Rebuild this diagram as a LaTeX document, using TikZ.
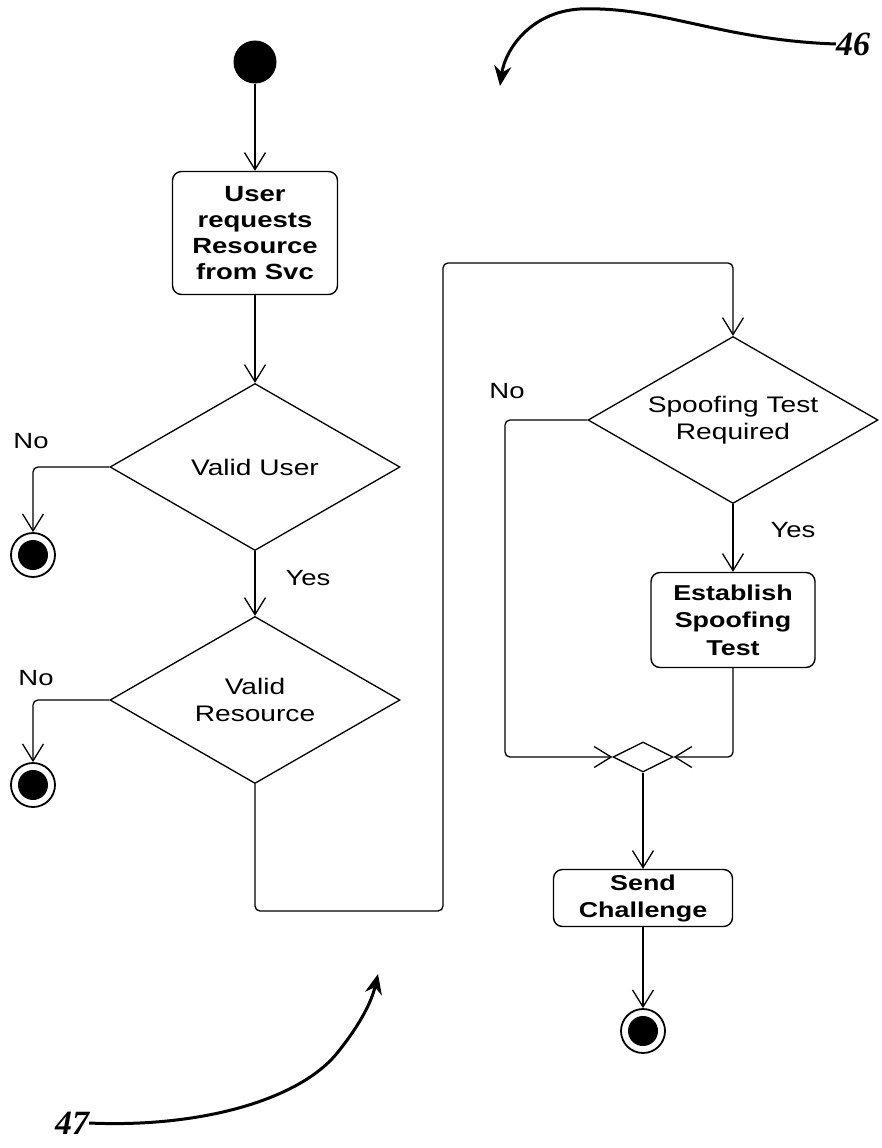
\documentclass[tikz,border=0pt]{standalone}
\usepackage{fontspec}
\setmainfont[FakeStretch=1.25]{Liberation Sans}
\newfontfamily\handfont{Liberation Serif}
\usetikzlibrary{arrows.meta,shapes.geometric}
\begin{document}
\begin{tikzpicture}[x=1pt,y=-1pt,
  flow/.style={line width=1.3pt,-{Straight Barb[length=17pt,width=21pt,line width=1.3pt]},rounded corners=5pt},
  actbox/.style={draw,line width=1.4pt,rounded corners=9pt,align=center,inner sep=0pt,
     font=\fontsize{22}{26}\selectfont\bfseries},
  decide/.style={draw,diamond,line width=1.3pt,inner sep=0pt,minimum width=290pt,minimum height=167pt},
  dtext/.style={align=center,inner sep=0pt,font=\fontsize{22.5}{27}\selectfont},
  startnode/.style={circle,fill=black,minimum size=43pt,inner sep=0pt},
  endnode/.style={circle,draw,line width=1.8pt,minimum size=44pt,inner sep=0pt,
     path picture={\fill[black] (path picture bounding box.center) circle (15pt);}},
  lbl/.style={font=\fontsize{22}{26}\selectfont,inner sep=0pt},
  ref/.style={font=\handfont\itshape\bfseries\fontsize{34}{34}\selectfont,inner sep=0pt},
  note/.style={line width=3pt,-{Stealth[length=20pt,width=17pt]}}]
\useasboundingbox (0,0) rectangle (881,1148);

% nodes
\node[startnode] (start) at (255,62) {};
\node[actbox,minimum width=165pt,minimum height=123pt] (req) at (255,233)
  {User\\requests\\Resource\\from Svc};
\node[decide] (vuser) at (255,467) {};
\node[dtext] (vusertxt) at (vuser.center) {Valid User};
\node[endnode] (end1) at (33,555) {};
\node[decide] (vres) at (255,700) {};
\node[dtext] (vrestxt) at (vres.center) {Valid\\Resource};
\node[endnode] (end2) at (33,785) {};
\node[decide] (spoof) at (733,420) {};
\node[dtext] (spooftxt) at (spoof.center) {Spoofing Test\\Required};
\node[actbox,minimum width=164pt,minimum height=95pt,font=\fontsize{21.5}{27.5}\selectfont\bfseries] (est) at (733,620)
  {Establish\\Spoofing\\Test};
\node[draw,diamond,line width=1.3pt,minimum width=60pt,minimum height=30pt,inner sep=0pt] (merge) at (643,757) {};
\node[actbox,minimum width=179pt,minimum height=57pt,font=\fontsize{21.5}{27}\selectfont\bfseries] (send) at (643,898)
  {Send\\Challenge};
\node[endnode] (end3) at (643,1031) {};

% labels
\node[lbl] (no1) at (31,441) {No};
\node[lbl] (yes1) at (308,578) {Yes};
\node[lbl] (no2) at (36,678) {No};
\node[lbl] (no3) at (507,391) {No};
\node[lbl] (yes2) at (793,530) {Yes};

% routing coordinates
\coordinate (c1) at (255,911);
\coordinate (c2) at (443,911);
\coordinate (c3) at (443,263);
\coordinate (c4) at (733,263);
\coordinate (c5) at (505,757);

% connectors
\draw[flow] (start) -- (req);
\draw[flow] (req.south) -- (vuser.north);
\draw[flow] (vuser.west) -| (end1.north);
\draw[flow] (vuser.south) -- (vres.north);
\draw[flow] (vres.west) -| (end2.north);
\draw[flow] (vres.south) -- (c1) -- (c2) -- (c3) -- (c4) -- (spoof.north);
\draw[flow] (spoof.south) -- (est.north);
\draw[flow] (spoof.west) -| (c5) -- (merge.west);
\draw[flow] (est.south) |- (merge.east);
\draw[flow] (merge.south) -- (send.north);
\draw[flow] (send.south) -- (end3.north);

% reference numerals
\node[ref] (r46) at (853,44) {46};
\node[ref] (r47) at (72,1123) {47};
\coordinate (t46) at (500,86);
\coordinate (t47) at (378,974);
\draw[note] (r46.west) .. controls (720,40) and (660,6) .. (580,9)
   .. controls (530,12) and (505,50) .. (t46);
\draw[note] (r47.east) .. controls (200,1128) and (300,1100) .. (338,1052)
   .. controls (362,1022) and (372,1000) .. (t47);
\end{tikzpicture}
\end{document}
